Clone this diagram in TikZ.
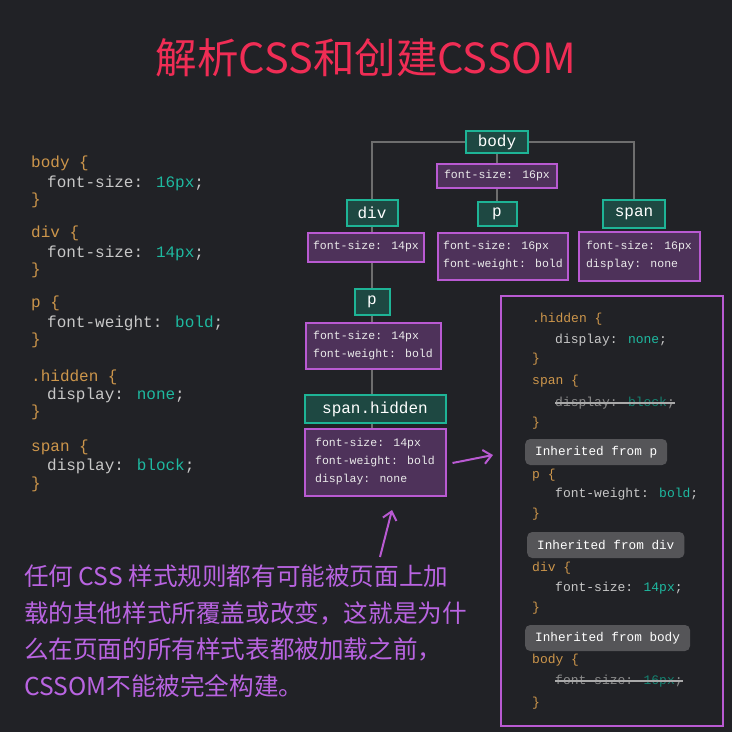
\documentclass[tikz,border=0pt]{standalone}
\usepackage{fontspec}
\usepackage{tikz}
\usetikzlibrary{arrows.meta}

\newfontfamily\cjkfont{Noto Sans CJK SC}
\newfontfamily\codefam{Liberation Mono}

\definecolor{bgcol}{RGB}{33,34,38}
\definecolor{titlered}{RGB}{240,45,85}
\definecolor{sel}{RGB}{205,150,75}
\definecolor{propgrey}{RGB}{200,200,200}
\definecolor{val}{RGB}{30,185,160}
\definecolor{tealline}{RGB}{30,180,150}
\definecolor{tealfill}{RGB}{30,72,66}
\definecolor{purpline}{RGB}{185,90,210}
\definecolor{purpfill}{RGB}{78,50,90}
\definecolor{linegrey}{RGB}{110,110,110}
\definecolor{badgegrey}{RGB}{85,85,88}
\definecolor{notepurple}{RGB}{185,100,225}

\pgfdeclarelayer{bg}
\pgfdeclarelayer{edges}
\pgfsetlayers{bg,edges,main}

\begin{document}
\begin{tikzpicture}[x=1pt,y=-1pt,
    tag/.style={draw=tealline, fill=tealfill, line width=2pt, text=white, inner sep=0pt,
      font=\codefam\fontsize{16}{18}\selectfont},
    props/.style={draw=purpline, fill=purpfill, line width=2pt, text=white!92!black, inner sep=0pt,
      align=left, font=\codefam\fontsize{11.5}{18}\selectfont},
    rule/.style={anchor=west, inner sep=0pt, text=propgrey, font=\codefam\fontsize{16}{18}\selectfont},
    crule/.style={anchor=west, inner sep=0pt, text=propgrey, font=\codefam\fontsize{13}{16}\selectfont},
    badge/.style={anchor=west, fill=badgegrey, rounded corners=5pt, text=white, minimum height=26,
      inner xsep=10pt, font=\codefam\fontsize{12.7}{15}\selectfont},
    treeline/.style={draw=linegrey, line width=2.8pt},
    strike/.style={draw=propgrey!85!black, line width=1.2pt},
    hint/.style={draw=purpline, line width=2pt, -{Straight Barb[length=8pt,width=14pt]}}]

    \begin{pgfonlayer}{bg}
      \fill[bgcol] (0,0) rectangle (732,732);
    \end{pgfonlayer}
    \useasboundingbox (0,0) rectangle (732,732);

    \node[font=\cjkfont\fontsize{41.5}{44}\selectfont, text=titlered] (title) at (366,58) {解析CSS和创建CSSOM};

    % source style sheet
    \node[rule] (lbody) at (31,163) {\textcolor{sel}{body \{}};
    \node[rule] (lbodyfs) at (47,183) {font-size: \textcolor{val}{16px};};
    \node[rule] (lbodyend) at (31,200) {\textcolor{sel}{\}}};
    \node[rule] (ldiv) at (31,233) {\textcolor{sel}{div \{}};
    \node[rule] (ldivfs) at (47,253) {font-size: \textcolor{val}{14px};};
    \node[rule] (ldivend) at (31,270) {\textcolor{sel}{\}}};
    \node[rule] (lp) at (31,303) {\textcolor{sel}{p \{}};
    \node[rule] (lpfw) at (47,323) {font-weight: \textcolor{val}{bold};};
    \node[rule] (lpend) at (31,340) {\textcolor{sel}{\}}};
    \node[rule] (lhid) at (31,377) {\textcolor{sel}{.hidden \{}};
    \node[rule] (lhiddp) at (47,395) {display: \textcolor{val}{none};};
    \node[rule] (lhidend) at (31,412) {\textcolor{sel}{\}}};
    \node[rule] (lspan) at (31,447) {\textcolor{sel}{span \{}};
    \node[rule] (lspandp) at (47,466) {display: \textcolor{val}{block};};
    \node[rule] (lspanend) at (31,484) {\textcolor{sel}{\}}};

    % tree
    \node[tag, minimum width=62, minimum height=22] (body) at (497,142) {body};
    \node[props, minimum width=120, minimum height=24] (bodyprops) at (497,176) {font-size: 16px};
    \node[tag, minimum width=51, minimum height=26] (div) at (372,213) {div};
    \node[tag, minimum width=39, minimum height=24] (p) at (497,214) {p};
    \node[tag, minimum width=62, minimum height=28] (span) at (634,214) {span};
    \node[props, minimum width=116, minimum height=29] (divprops) at (366,247) {font-size: 14px};
    \node[props, minimum width=130, minimum height=47] (pprops) at (503,256) {font-size: 16px\\font-weight: bold};
    \node[props, minimum width=121, minimum height=49] (spanprops) at (639,256) {font-size: 16px\\display: none};
    \node[tag, minimum width=35, minimum height=26] (p2) at (372,302) {p};
    \node[props, minimum width=135, minimum height=46] (p2props) at (373,346) {font-size: 14px\\font-weight: bold};
    \node[tag, minimum width=141, minimum height=28] (spanhidden) at (375,409) {span.hidden};
    \node[props, minimum width=141, minimum height=67] (shprops) at (375,462) {font-size: 14px\\font-weight: bold\\display: none};

    \begin{pgfonlayer}{edges}
      \draw[treeline] (body.west) -| (div.north);
      \draw[treeline] (body.east) -| (span.north);
      \draw[treeline] (body) -- (p);
      \draw[treeline] (div) -- (p2);
      \draw[treeline] (p2) -- (p2 |- shprops.north);
    \end{pgfonlayer}

    % computed styles
    \node[draw=purpline, line width=2.5pt, minimum width=222, minimum height=430] (cascade) at (612,511) {};
    \node[crule] (rhid) at (532,319) {\textcolor{sel}{.hidden \{}};
    \node[crule] (rhiddp) at (555,340) {display: \textcolor{val}{none};};
    \node[crule] (rhidend) at (532,359) {\textcolor{sel}{\}}};
    \node[crule] (rspan) at (532,381) {\textcolor{sel}{span \{}};
    \node[crule, text=propgrey!70!black] (rspandp) at (555,403) {display: \textcolor{val!70!black}{block};};
    \node[crule] (rspanend) at (532,423) {\textcolor{sel}{\}}};
    \node[badge] (fromp) at (525,452) {Inherited from p};
    \node[crule] (rp) at (532,475) {\textcolor{sel}{p \{}};
    \node[crule] (rpfw) at (555,494) {font-weight: \textcolor{val}{bold};};
    \node[crule] (rpend) at (532,514) {\textcolor{sel}{\}}};
    \node[badge] (fromdiv) at (527,545) {Inherited from div};
    \node[crule] (rdiv) at (532,568) {\textcolor{sel}{div \{}};
    \node[crule] (rdivfs) at (555,588) {font-size: \textcolor{val}{14px};};
    \node[crule] (rdivend) at (532,608) {\textcolor{sel}{\}}};
    \node[badge] (frombody) at (525,638) {Inherited from body};
    \node[crule] (rbody) at (532,660) {\textcolor{sel}{body \{}};
    \node[crule, text=propgrey!70!black] (rbodyfs) at (555,681) {font-size: \textcolor{val!70!black}{16px};};
    \node[crule] (rbodyend) at (532,703) {\textcolor{sel}{\}}};
    \draw[strike] (rspandp.west) -- (rspandp.east);
    \draw[strike] (rbodyfs.west) -- (rbodyfs.east);

    \coordinate (cascin) at (493,455);
    \draw[hint] ([xshift=6pt,yshift=-1pt]shprops.east) -- (cascin);

    % note
    \node[anchor=north west, inner sep=0pt, align=left, text=notepurple,
      font=\cjkfont\fontsize{24.6}{36.5}\selectfont] (note) at (24,565)
      {任何 CSS 样式规则都有可能被页面上加\\载的其他样式所覆盖或改变，这就是为什\\么在页面的所有样式表都被加载之前，\\CSSOM不能被完全构建。};
    \coordinate (hinttail) at (380,557);
    \coordinate (hinttip) at (392,510);
    \draw[hint] (hinttail) -- (hinttip);
\end{tikzpicture}
\end{document}
